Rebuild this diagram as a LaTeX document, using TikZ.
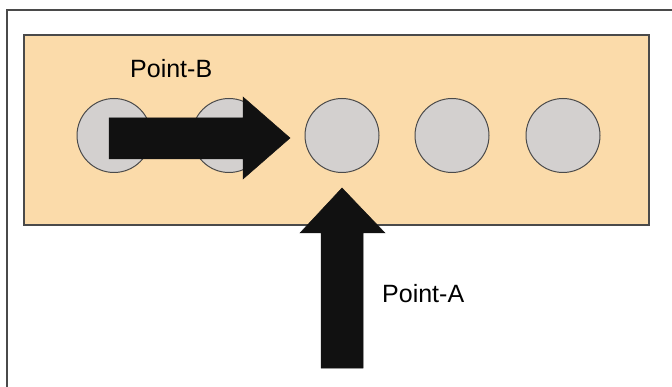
\documentclass[tikz,border=0pt]{standalone}
\usepackage{fontspec}
\setmainfont{Liberation Sans}
\definecolor{peach}{HTML}{FBDBAA}
\definecolor{disc}{HTML}{D3D0CF}
\definecolor{frame}{HTML}{4A4A4A}
\definecolor{arrowblack}{HTML}{111111}
\begin{document}
\begin{tikzpicture}[x=1pt,y=-1pt,
  hole/.style={circle,draw=frame,line width=1pt,fill=disc,minimum size=74pt,inner sep=0pt},
  blockarrow/.style={fill=arrowblack,draw=arrowblack,line width=0.5pt,line join=miter},
  lbl/.style={anchor=base west,inner sep=0pt,font=\fontsize{25}{30}\selectfont}]
\useasboundingbox (0,0) rectangle (672,387);
% outer frame (only top and left edges show)
\draw[frame,line width=1.2pt] (7,387) -- (7,10) -- (672,10);
% plate
\draw[frame,line width=1.5pt,fill=peach] (24,35) rectangle (649,225);
% holes
\node[hole] (c1) at (114,135.5) {};
\node[hole] (c2) at (229,135.5) {};
\node[hole] (c3) at (342,135.5) {};
\node[hole] (c4) at (452,135.5) {};
\node[hole] (c5) at (563,135.5) {};
% arrow B (horizontal)
\draw[blockarrow] (109,118) -- (243,118) -- (243,97) -- (290,138) -- (243,179) -- (243,159) -- (109,159) -- cycle;
% arrow A (vertical)
\draw[blockarrow] (321,368) -- (321,233) -- (300,233) -- (342,188) -- (385,233) -- (363,233) -- (363,368) -- cycle;
% labels
\node[lbl] (pb) at (130,78) {Point-B};
\node[lbl] (pa) at (382,303) {Point-A};
\end{tikzpicture}
\end{document}
